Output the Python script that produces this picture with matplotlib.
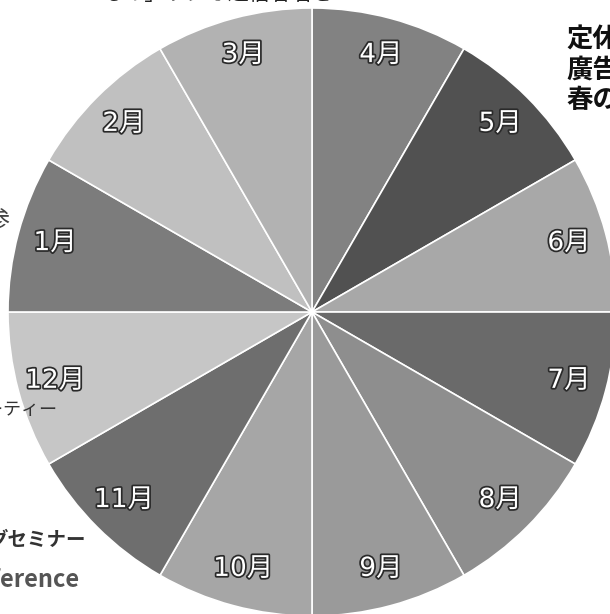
import matplotlib.pyplot as plt
import matplotlib.patheffects as pe

plt.rcParams['font.family'] = ['Noto Sans CJK JP', 'DejaVu Sans']

# Months, clockwise from the top
months = ["4月", "5月", "6月", "7月", "8月", "9月",
          "10月", "11月", "12月", "1月", "2月", "3月"]
shares = [1, 1, 1, 1, 1, 1, 1, 1, 1, 1, 1, 1]
shades = ["#828282", "#515151", "#a8a8a8", "#6a6a6a", "#8e8e8e", "#9a9a9a",
          "#a6a6a6", "#6e6e6e", "#c6c6c6", "#7c7c7c", "#c0c0c0", "#b2b2b2"]

W, H = 610, 614
fig = plt.figure(figsize=(W / 100, H / 100), dpi=100)
ax = fig.add_axes([0, 0, 1, 1])

# Pie centre sits at pixel (312, 312) with a radius of 304 px
cx, cy, rad = 312, 312, 304

wedges, texts = ax.pie(
    shares,
    colors=shades,
    labels=months,
    labeldistance=0.875,
    startangle=90,
    counterclock=False,
    radius=1.0,
    wedgeprops=dict(edgecolor='white', linewidth=1.2),
    textprops=dict(fontsize=19, color='white',
                   family=['DejaVu Sans', 'Noto Sans CJK JP']),
)
ax.set_aspect('auto')
ax.set_xlim(-cx / rad, (W - cx) / rad)
ax.set_ylim(-(H - cy) / rad, cy / rad)
ax.axis('off')

for t in texts:
    t.set_ha('center')
    t.set_va('center')
    t.set_path_effects([pe.withStroke(linewidth=2.5, foreground='#2a2a2a')])


def side_text(x, y, s, **kw):
    """Place text by pixel position, top-left origin."""
    fig.text(x / W, 1 - y / H, s, **kw)


# Surrounding copy from the page, cut off at the edges
side_text(40, -6, "「いつもの」ラジオ通信者名を", fontsize=15, color='#222222', va='center')
for i, line in enumerate(["定休日", "廣告", "春の"]):
    side_text(566, 40 + 30 * i, line, fontsize=19, color='#111111', va='center',
              fontweight='bold')
side_text(596, 437, "『", fontsize=18, color='#444444', va='center')
side_text(10, 222, "参", fontsize=18, color='#444444', va='center', ha='right')
side_text(58, 410, "パーティー", fontsize=13, color='#333333', va='center', ha='right')
side_text(86, 540, "グセミナー", fontsize=14, color='#333333', va='center', ha='right',
          fontweight='bold')
side_text(80, 580, "Conference", fontsize=17, color='#555555', va='center', ha='right',
          fontweight='bold')

fig.savefig("out.png", dpi=100)
